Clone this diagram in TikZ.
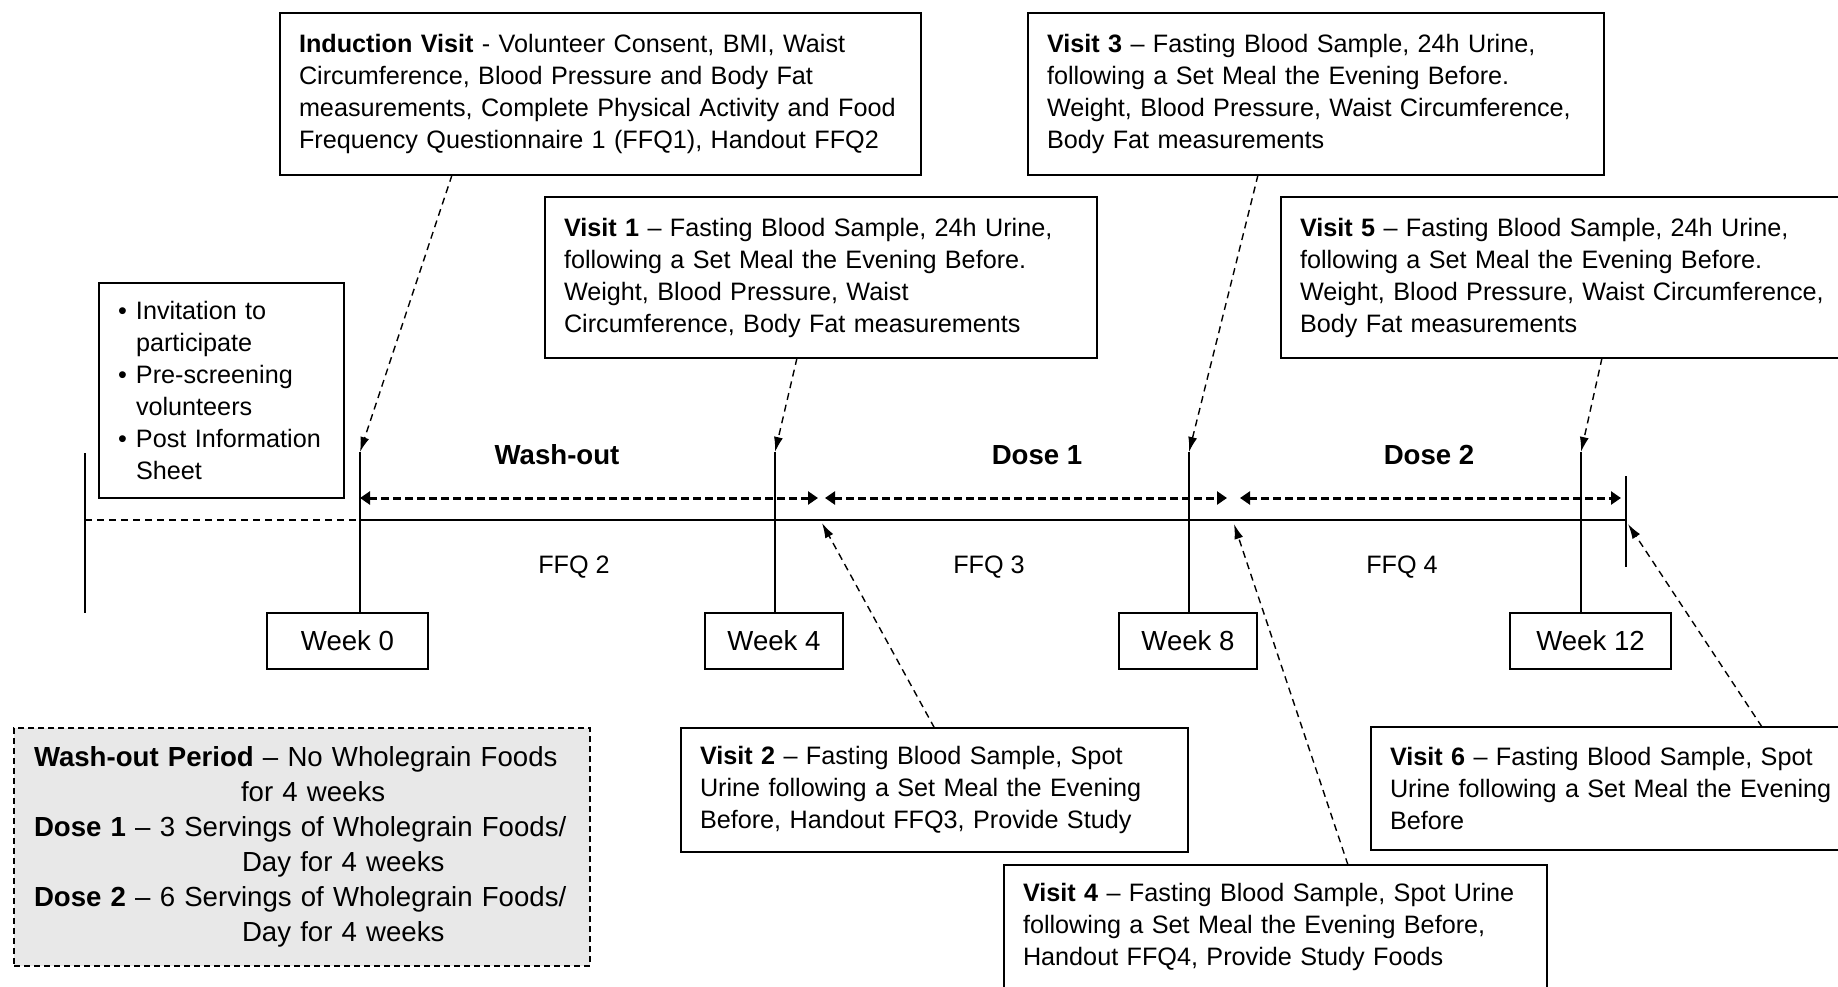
\documentclass[tikz,border=0pt]{standalone}
\usepackage{fontspec}
\setmainfont{Liberation Sans}
\usetikzlibrary{arrows.meta}
\definecolor{legendgray}{RGB}{232,232,232}
\newcommand{\boxfont}{\fontsize{25.2}{32}\selectfont}
\newcommand{\bigfont}{\fontsize{27.6}{35}\selectfont}
\newcommand{\bul}{\makebox[18pt][l]{•}}

\begin{document}
\begin{tikzpicture}[x=1pt,y=-1pt,
visit/.style={draw,line width=2pt,outer sep=0pt,anchor=north west,align=left,inner xsep=19pt,inner ysep=0pt,font=\boxfont},
week/.style={draw,line width=2pt,outer sep=0pt,minimum height=56pt,inner sep=0pt,font=\bigfont},
legend/.style={draw,line width=2pt,dash pattern=on 6pt off 4pt,fill=legendgray,outer sep=0pt,anchor=north west,align=left,inner xsep=20pt,inner ysep=0pt,font=\bigfont},
period/.style={font=\bigfont\bfseries},
ffq/.style={font=\fontsize{25.2}{30}\selectfont},
visitarrow/.style={line width=1.4pt,dash pattern=on 7pt off 5pt,-{Latex[length=15pt,width=9pt]}},
span/.style={line width=3pt,dash pattern=on 8pt off 4pt,{Triangle[length=10pt,width=13pt]}-{Triangle[length=10pt,width=13pt]}},
axis/.style={line width=2.5pt},
tick/.style={line width=2pt}]
\useasboundingbox (0,0) rectangle (1838,986);

\node[visit,text width=603pt,minimum height=162pt] (induction) at (280,13)
{\textbf{Induction Visit} - Volunteer Consent, BMI, Waist\\
Circumference, Blood Pressure and Body Fat\\
measurements, Complete Physical Activity and Food\\
Frequency Questionnaire 1 (FFQ1), Handout FFQ2};
\node[visit,text width=514pt,minimum height=161pt] (visit1) at (545,197)
{\textbf{Visit 1} -- Fasting Blood Sample, 24h Urine,\\
following a Set Meal the Evening Before.\\
Weight, Blood Pressure, Waist\\
Circumference, Body Fat measurements};
\node[visit,text width=538pt,minimum height=162pt] (visit3) at (1028,13)
{\textbf{Visit 3} -- Fasting Blood Sample, 24h Urine,\\
following a Set Meal the Evening Before.\\
Weight, Blood Pressure, Waist Circumference,\\
Body Fat measurements};
\node[visit,text width=562pt,minimum height=161pt] (visit5) at (1281,197)
{\textbf{Visit 5} -- Fasting Blood Sample, 24h Urine,\\
following a Set Meal the Evening Before.\\
Weight, Blood Pressure, Waist Circumference,\\
Body Fat measurements};
\node[visit,text width=207pt,minimum height=215pt] (recruit) at (99,283)
{\bul Invitation to\\
\hspace*{18pt}participate\\
\bul Pre-screening\\
\hspace*{18pt}volunteers\\
\bul Post Information\\
\hspace*{18pt}Sheet};
\node[visit,text width=469pt,minimum height=124pt] (visit2) at (681,728)
{\textbf{Visit 2} -- Fasting Blood Sample, Spot\\
Urine following a Set Meal the Evening\\
Before, Handout FFQ3, Provide Study};
\node[visit,text width=482pt,minimum height=123pt] (visit6) at (1371,727)
{\textbf{Visit 6} -- Fasting Blood Sample, Spot\\
Urine following a Set Meal the Evening\\
Before};
\node[visit,text width=505pt,minimum height=124pt] (visit4) at (1004,865)
{\textbf{Visit 4} -- Fasting Blood Sample, Spot Urine\\
following a Set Meal the Evening Before,\\
Handout FFQ4, Provide Study Foods};
\node[legend,text width=536pt,minimum height=238pt] (key) at (14,728)
{\textbf{Wash-out Period} -- No Wholegrain Foods\\
\hspace*{207pt}for 4 weeks\\
\textbf{Dose 1} -- 3 Servings of Wholegrain Foods/\\
\hspace*{208pt}Day for 4 weeks\\
\textbf{Dose 2} -- 6 Servings of Wholegrain Foods/\\
\hspace*{208pt}Day for 4 weeks};

\node[week,minimum width=161pt] (week0) at (347.5,641) {Week 0};
\node[week,minimum width=138pt] (week4) at (774,641) {Week 4};
\node[week,minimum width=138pt] (week8) at (1188,641) {Week 8};
\node[week,minimum width=161pt] (week12) at (1590.5,641) {Week 12};

\coordinate (t0) at (360,452);
\coordinate (t4) at (775,452);
\coordinate (t8) at (1189,452);
\coordinate (t12) at (1581,452);
\coordinate (start) at (85,520);
\coordinate (end) at (1626,520);

\draw[axis,dash pattern=on 7pt off 5pt] (start) -- (start -| t0);
\draw[axis] (start -| t0) -- (end);
\draw[tick] ([yshift=67pt]start) -- ([yshift=-93pt]start);
\draw[tick] ([yshift=44pt]end) -- ([yshift=-47pt]end);
\draw[tick] (t0) -- (t0 |- week0.north);
\draw[tick] (t4) -- (t4 |- week4.north);
\draw[tick] (t8) -- (t8 |- week8.north);
\draw[tick] (t12) -- (t12 |- week12.north);

\coordinate (s0) at (360,498);
\coordinate (s1) at (818,498);
\coordinate (s2) at (825,498);
\coordinate (s3) at (1227,498);
\coordinate (s4) at (1240,498);
\coordinate (s5) at (1621,498);
\draw[span] (s0) -- (s1);
\draw[span] (s2) -- (s3);
\draw[span] (s4) -- (s5);

\node[period] (washout) at (557,455) {Wash-out};
\node[period] (dose1) at (1037,455) {Dose 1};
\node[period] (dose2) at (1429,455) {Dose 2};
\node[ffq] (ffq2) at (574,567) {FFQ 2};
\node[ffq] (ffq3) at (989,567) {FFQ 3};
\node[ffq] (ffq4) at (1402,567) {FFQ 4};

\coordinate (m1) at (822,523);
\coordinate (m2) at (1234,524);
\coordinate (m3) at (1628,524);

\draw[visitarrow] ([xshift=-148.5pt]induction.south) -- (t0);
\draw[visitarrow] ([xshift=-24pt]visit1.south) -- (t4);
\draw[visitarrow] ([xshift=-58pt]visit3.south) -- (t8);
\draw[visitarrow] ([xshift=21pt]visit5.south) -- (t12);
\draw[visitarrow] (visit2.north) -- (m1);
\draw[visitarrow] ([xshift=72.5pt]visit4.north) -- (m2);
\draw[visitarrow] ([xshift=131pt]visit6.north) -- (m3);
\end{tikzpicture}
\end{document}
